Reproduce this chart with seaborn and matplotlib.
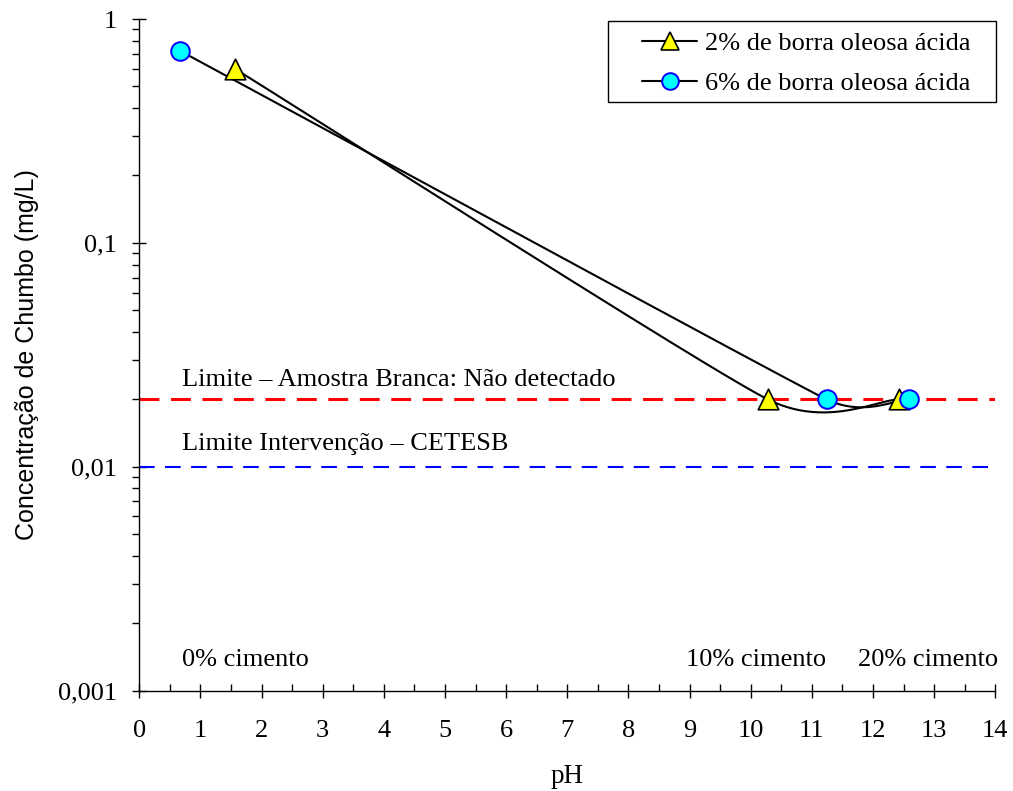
import numpy as np
import pandas as pd
import matplotlib
matplotlib.use("Agg")
import matplotlib.pyplot as plt
import seaborn as sns
from matplotlib.lines import Line2D
from matplotlib.patches import Rectangle
from matplotlib.ticker import FixedLocator, FixedFormatter, LogLocator, MultipleLocator, NullFormatter

# Lead leaching results (pH of extract vs. Pb concentration)
ph_2 = [1.56, 10.28, 12.43]
pb_2 = [0.60, 0.02, 0.02]
ph_6 = [0.67, 11.24, 12.59]
pb_6 = [0.72, 0.02, 0.02]
series_labels = ["2% de borra oleosa ácida", "6% de borra oleosa ácida"]

limite_branca = 0.02
limite_cetesb = 0.01
limite_labels = ["Limite – Amostra Branca: Não detectado", "Limite Intervenção – CETESB"]
cimento_labels = ["0% cimento", "10% cimento", "20% cimento"]

x_ticks = list(range(0, 15))
y_ticks = [0.001, 0.01, 0.1, 1]
y_tick_labels = ["0,001", "0,01", "0,1", "1"]

sns.set_theme(style="white")
plt.rcParams["font.family"] = ["Liberation Serif", "DejaVu Serif"]
plt.rcParams["text.color"] = "black"
plt.rcParams["axes.labelcolor"] = "black"
plt.rcParams["xtick.color"] = "black"
plt.rcParams["ytick.color"] = "black"

W, H = 1013, 791
fig = plt.figure(figsize=(W / 100, H / 100), dpi=100)
fig.patch.set_facecolor("white")
L, R, T, B = 139.3, 995.3, 19.0, 690.7
ax = fig.add_axes([L / W, 1 - B / H, (R - L) / W, (B - T) / H])
ax.set_facecolor("white")
ax.set_yscale("log")
ax.set_xlim(0, 14)
ax.set_ylim(0.001, 1)


def smooth_curve(ax, xs, ys, n=80):
    """Bezier smoothing in display space, tangents capped by half the neighbouring segments."""
    pts = ax.transData.transform(np.column_stack([xs, ys]))
    m = len(pts)
    tang = np.zeros_like(pts)
    for i in range(m):
        if i == 0:
            tang[i] = (pts[1] - pts[0]) / 6.0
        elif i == m - 1:
            tang[i] = (pts[-1] - pts[-2]) / 6.0
        else:
            d02 = np.linalg.norm(pts[i + 1] - pts[i - 1])
            d01 = np.linalg.norm(pts[i] - pts[i - 1])
            d12 = np.linalg.norm(pts[i + 1] - pts[i])
            f = 1.0 / 6.0
            cap = min(d01, d12) / 2.0
            if d02 * f > cap:
                f = cap / d02
            tang[i] = f * (pts[i + 1] - pts[i - 1])
    t = np.linspace(0, 1, n)[:, None]
    out = []
    for i in range(m - 1):
        b0, b3 = pts[i], pts[i + 1]
        b1, b2 = b0 + tang[i], b3 - tang[i + 1]
        seg = ((1 - t) ** 3) * b0 + 3 * ((1 - t) ** 2) * t * b1 + 3 * (1 - t) * t ** 2 * b2 + t ** 3 * b3
        out.append(seg if i == 0 else seg[1:])
    curve = ax.transData.inverted().transform(np.vstack(out))
    return pd.DataFrame({"pH": curve[:, 0], "Pb": curve[:, 1]})


# reference limits
ax.axhline(limite_branca, color="#FF0000", lw=2.2, ls=(0, (6.5, 3.8)), zorder=1)
ax.axhline(limite_cetesb, color="#0000FF", lw=1.5, ls=(0, (7.5, 5.0)), zorder=1)

# smoothed series lines
c2 = smooth_curve(ax, ph_2, pb_2)
c6 = smooth_curve(ax, ph_6, pb_6)
sns.lineplot(data=c2, x="pH", y="Pb", sort=False, estimator=None, color="black", lw=1.5, ax=ax, zorder=2)
sns.lineplot(data=c6, x="pH", y="Pb", sort=False, estimator=None, color="black", lw=1.5, ax=ax, zorder=2)

# markers
tri_size, circ_size = 14.8, 13.4
sns.scatterplot(x=ph_2, y=pb_2, marker="^", s=tri_size ** 2, color="#FFFF00", edgecolor="black",
                linewidth=1.2, ax=ax, zorder=3)
sns.scatterplot(x=ph_6, y=pb_6, marker="o", s=circ_size ** 2, color="#00FFFF", edgecolor="#0000FF",
                linewidth=1.4, ax=ax, zorder=4)

ax.set_xlim(0, 14)
ax.set_ylim(0.001, 1)

# text annotations
fs = 19
ax.text(0.70, 0.0244, limite_labels[0], fontsize=fs, va="center", ha="left")
ax.text(0.70, 0.01264, limite_labels[1], fontsize=fs, va="center", ha="left")
ax.text(0.70, 0.00137, cimento_labels[0], fontsize=fs, va="center", ha="left")
ax.text(8.94, 0.00137, cimento_labels[1], fontsize=fs, va="center", ha="left")
ax.text(14.05, 0.00137, cimento_labels[2], fontsize=fs, va="center", ha="right")

# axes styling
for side in ["top", "right"]:
    ax.spines[side].set_visible(False)
for side in ["left", "bottom"]:
    ax.spines[side].set_color("black")
    ax.spines[side].set_linewidth(1.0)

ax.xaxis.set_major_locator(FixedLocator(x_ticks))
ax.xaxis.set_minor_locator(MultipleLocator(0.5))
ax.yaxis.set_major_locator(FixedLocator(y_ticks))
ax.yaxis.set_major_formatter(FixedFormatter(y_tick_labels))
ax.yaxis.set_minor_locator(LogLocator(base=10, subs=np.arange(2, 10)))
ax.yaxis.set_minor_formatter(NullFormatter())

ax.tick_params(axis="x", which="major", direction="inout", length=10, width=1.0, pad=16, labelsize=fs)
ax.tick_params(axis="x", which="minor", direction="in", length=5, width=1.0)
ax.tick_params(axis="y", which="major", direction="inout", length=10, width=1.0, pad=11, labelsize=fs)
ax.tick_params(axis="y", which="minor", direction="out", length=5, width=1.0)
ax.tick_params(bottom=True, left=True, which="both")

ax.set_xlabel("pH", fontsize=19.5, labelpad=16)
ax.set_ylabel("Concentração de Chumbo (mg/L)", fontsize=18, family=["Liberation Sans", "DejaVu Sans"], labelpad=14)

# legend: frame box plus entries
fig.add_artist(Rectangle((608 / W, 1 - 102 / H), (996 - 608) / W, (102 - 21) / H,
                         transform=fig.transFigure, facecolor="white", edgecolor="black", lw=1.0, zorder=5))
handles = [
    Line2D([], [], color="black", lw=1.5, marker="^", markersize=13, markerfacecolor="#FFFF00",
           markeredgecolor="black", markeredgewidth=1.2),
    Line2D([], [], color="black", lw=1.5, marker="o", markersize=12, markerfacecolor="#00FFFF",
           markeredgecolor="#0000FF", markeredgewidth=1.4),
]
leg = fig.legend(handles, series_labels, loc="upper left", bbox_to_anchor=(642 / W, 1 - 32 / H),
                 bbox_transform=fig.transFigure, borderaxespad=0, borderpad=0,
                 fontsize=fs, frameon=False, handlelength=2.1, handletextpad=0.28, labelspacing=0.6)
leg.set_zorder(6)

fig.savefig("out.png", dpi=100, facecolor="white")
